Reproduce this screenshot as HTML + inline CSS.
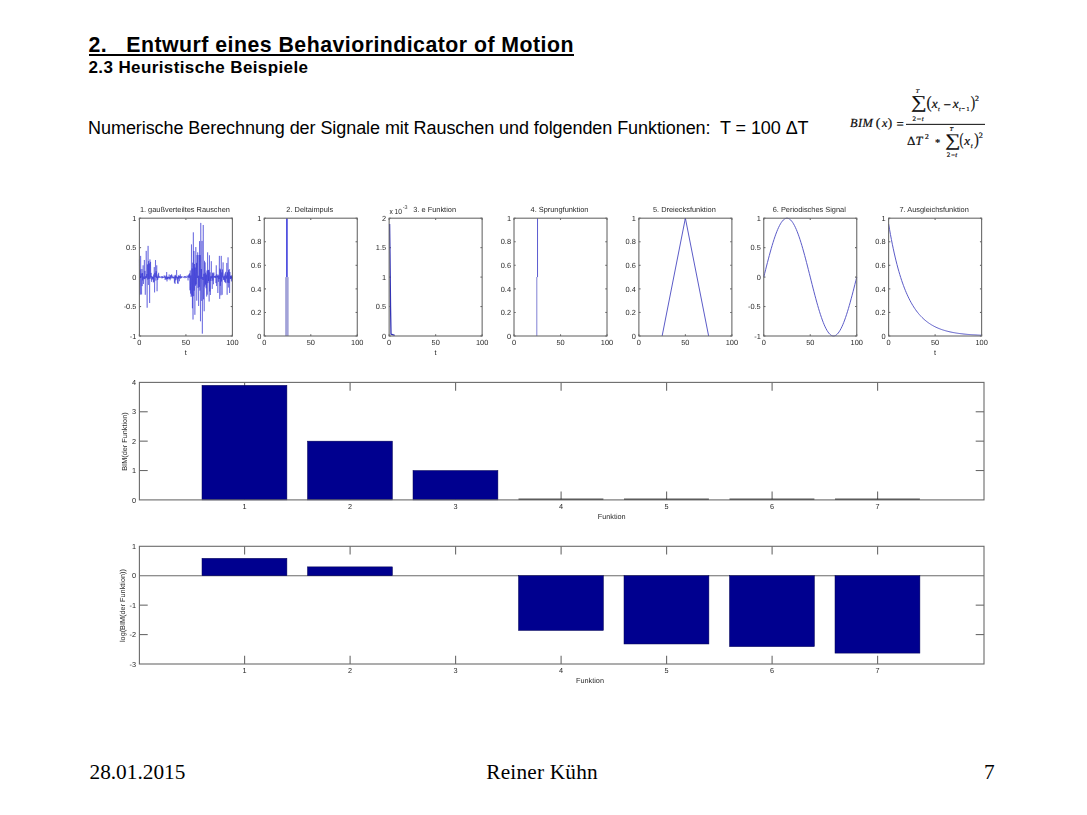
<!DOCTYPE html>
<html><head><meta charset="utf-8"><title>Slide 7</title>
<style>
html,body{margin:0;padding:0;background:#fff;}
body{width:1087px;height:815px;position:relative;overflow:hidden;font-family:"Liberation Sans",sans-serif;color:#000;}
.t{position:absolute;white-space:pre;line-height:1;}
#title{left:88.5px;top:35.1px;font-size:21.3px;font-weight:bold;letter-spacing:0.47px;}
#title u{text-decoration:none;}
#ul{position:absolute;left:88.5px;top:54.2px;width:485.9px;height:1.7px;background:#000;}
#sub{left:88.5px;top:58.6px;font-size:17px;font-weight:bold;letter-spacing:0.39px;}
#body{left:88.1px;top:118.8px;font-size:18px;letter-spacing:-0.07px;}
.f{font-family:"Liberation Serif",serif;font-size:21.3px;top:762px;}
</style></head><body>
<div class="t" id="title"><u>2.   Entwurf eines Behaviorindicator of Motion</u></div>
<div id="ul"></div>
<div class="t" id="sub">2.3 Heuristische Beispiele</div>
<div class="t" id="body">Numerische Berechnung der Signale mit Rauschen und folgenden Funktionen:  T = 100 &#916;T</div>
<div class="t f" style="left:89.5px">28.01.2015</div>
<div class="t f" style="left:486.3px;letter-spacing:0.2px">Reiner K&#252;hn</div>
<div class="t f" style="left:984px">7</div>
<svg width="1087" height="815" viewBox="0 0 1087 815" style="position:absolute;left:0;top:0" font-family="Liberation Sans, sans-serif">
<defs><filter id="soft" x="0" y="0" width="100%" height="100%" filterUnits="userSpaceOnUse" color-interpolation-filters="sRGB"><feGaussianBlur stdDeviation="0.42"/></filter></defs>
<g filter="url(#soft)">
<g stroke="#6a6a6a" stroke-width="1.1" fill="none"><line x1="139.40" y1="336.00" x2="139.40" y2="334.30"/><line x1="139.40" y1="218.20" x2="139.40" y2="219.90"/><line x1="185.90" y1="336.00" x2="185.90" y2="334.30"/><line x1="185.90" y1="218.20" x2="185.90" y2="219.90"/><line x1="232.40" y1="336.00" x2="232.40" y2="334.30"/><line x1="232.40" y1="218.20" x2="232.40" y2="219.90"/><line x1="139.40" y1="336.00" x2="141.10" y2="336.00"/><line x1="232.40" y1="336.00" x2="230.70" y2="336.00"/><line x1="139.40" y1="306.55" x2="141.10" y2="306.55"/><line x1="232.40" y1="306.55" x2="230.70" y2="306.55"/><line x1="139.40" y1="277.10" x2="141.10" y2="277.10"/><line x1="232.40" y1="277.10" x2="230.70" y2="277.10"/><line x1="139.40" y1="247.65" x2="141.10" y2="247.65"/><line x1="232.40" y1="247.65" x2="230.70" y2="247.65"/><line x1="139.40" y1="218.20" x2="141.10" y2="218.20"/><line x1="232.40" y1="218.20" x2="230.70" y2="218.20"/></g>
<g fill="#2a2a2a" font-size="7.4" text-rendering="geometricPrecision"><text x="139.40" y="344.80" text-anchor="middle">0</text><text x="185.90" y="344.80" text-anchor="middle">50</text><text x="232.40" y="344.80" text-anchor="middle">100</text><text x="136.40" y="338.70" text-anchor="end">-1</text><text x="136.40" y="309.25" text-anchor="end">-0.5</text><text x="136.40" y="279.80" text-anchor="end">0</text><text x="136.40" y="250.35" text-anchor="end">0.5</text><text x="136.40" y="220.90" text-anchor="end">1</text><text x="184.90" y="212.20" text-anchor="middle">1. gau&#223;verteiltes Rauschen</text><text x="185.90" y="354.60" text-anchor="middle">t</text></g>
<polyline points="139.40,259.43 139.71,294.77 140.02,269.40 140.33,294.48 140.64,255.90 140.95,277.56 141.26,273.46 141.57,294.48 141.88,269.02 142.19,286.11 142.50,273.09 142.81,280.41 143.12,265.32 143.43,283.99 143.74,276.51 144.05,279.03 144.36,259.98 144.67,279.14 144.98,270.88 145.29,294.77 145.60,276.24 145.91,278.45 146.22,250.89 146.53,277.77 146.84,274.13 147.15,307.73 147.46,264.43 147.77,279.56 148.08,245.88 148.39,284.94 148.70,261.08 149.01,278.93 149.32,263.43 149.63,303.02 149.94,259.43 150.25,278.70 150.56,261.88 150.87,277.37 151.18,272.89 151.49,281.78 151.80,275.97 152.11,279.82 152.42,276.84 152.73,278.83 153.04,276.72 153.35,282.39 153.66,274.57 153.97,281.84 154.28,267.12 154.59,292.41 154.90,272.87 155.21,277.11 155.52,260.02 155.83,280.61 156.14,271.22 156.45,277.81 156.76,265.32 157.07,291.24 157.38,276.49 157.69,279.96 158.00,274.45 158.31,278.23 158.62,272.80 158.93,277.54 159.24,276.11 159.55,277.67 159.86,276.83 160.17,277.32 160.48,276.94 160.79,277.69 161.10,276.22 161.41,277.47 161.72,276.61 162.03,278.41 162.34,276.33 162.65,277.94 162.96,276.52 163.27,277.62 163.58,276.97 163.89,277.77 164.20,275.36 164.51,277.49 164.82,276.23 165.13,280.02 165.44,276.73 165.75,278.85 166.06,275.52 166.37,279.51 166.68,272.04 166.99,281.42 167.30,276.68 167.61,279.05 167.92,276.80 168.23,279.39 168.54,276.84 168.85,278.07 169.16,274.47 169.47,278.94 169.78,276.96 170.09,280.29 170.40,275.43 170.71,278.72 171.02,275.00 171.33,277.60 171.64,274.29 171.95,278.38 172.26,276.80 172.57,277.68 172.88,275.64 173.19,278.34 173.50,277.10 173.81,278.27 174.12,276.85 174.43,282.75 174.74,275.58 175.05,283.94 175.36,274.89 175.67,280.34 175.98,276.06 176.29,277.92 176.60,270.06 176.91,279.48 177.22,276.80 177.53,283.34 177.84,276.89 178.15,283.87 178.46,275.49 178.77,278.65 179.08,275.60 179.39,281.24 179.70,275.92 180.01,277.87 180.32,274.31 180.63,278.65 180.94,276.33 181.25,278.06 181.56,276.52 181.87,277.58 182.18,276.54 182.49,277.19 182.80,276.86 183.11,277.18 183.42,276.80 183.73,277.71 184.04,276.76 184.35,277.26 184.66,276.14 184.97,278.23 185.28,276.07 185.59,277.23 185.90,276.76 186.21,277.97 186.52,276.98 186.83,277.25 187.14,275.56 187.45,277.27 187.76,276.55 188.07,280.43 188.38,275.33 188.69,277.61 189.00,274.19 189.31,277.82 189.62,273.31 189.93,290.32 190.24,270.47 190.55,293.59 190.86,275.44 191.17,296.90 191.48,244.41 191.79,295.62 192.10,268.47 192.41,308.27 192.72,262.69 193.03,319.51 193.34,232.34 193.65,296.18 193.96,251.01 194.27,290.65 194.58,263.99 194.89,314.80 195.20,267.56 195.51,285.72 195.82,247.06 196.13,284.38 196.44,262.87 196.75,300.66 197.06,255.09 197.37,277.99 197.68,252.36 197.99,287.92 198.30,275.73 198.61,305.96 198.92,254.97 199.23,286.93 199.54,241.17 199.85,290.61 200.16,255.14 200.47,321.27 200.78,222.91 201.09,278.80 201.40,269.02 201.71,300.86 202.02,240.92 202.33,333.64 202.64,276.98 202.95,279.92 203.26,224.97 203.57,299.32 203.88,273.81 204.19,311.26 204.50,260.81 204.81,286.57 205.12,262.38 205.43,284.65 205.74,272.68 206.05,288.28 206.36,274.57 206.67,296.54 206.98,270.56 207.29,294.66 207.60,252.36 207.91,283.08 208.22,269.85 208.53,281.16 208.84,270.05 209.15,301.54 209.46,255.31 209.77,291.46 210.08,272.35 210.39,294.98 210.70,276.36 211.01,280.94 211.32,261.20 211.63,278.39 211.94,275.73 212.25,288.88 212.56,272.69 212.87,280.68 213.18,273.43 213.49,284.21 213.80,272.47 214.11,277.57 214.42,276.12 214.73,277.50 215.04,276.20 215.35,277.97 215.66,275.58 215.97,283.12 216.28,265.32 216.59,286.04 216.90,274.35 217.21,277.49 217.52,275.82 217.83,293.00 218.14,274.70 218.45,281.84 218.76,275.60 219.07,279.02 219.38,255.90 219.69,298.89 220.00,268.63 220.31,285.87 220.62,269.55 220.93,295.33 221.24,255.90 221.55,281.50 221.86,272.38 222.17,294.77 222.48,269.48 222.79,277.51 223.10,262.38 223.41,279.74 223.72,276.47 224.03,280.11 224.34,275.58 224.65,281.73 224.96,273.53 225.27,282.39 225.58,271.86 225.89,283.16 226.20,275.43 226.51,278.58 226.82,262.96 227.13,294.77 227.44,272.22 227.75,282.62 228.06,257.37 228.37,287.52 228.68,270.15 228.99,282.99 229.30,269.10 229.61,293.00 229.92,272.01 230.23,278.93 230.54,275.71 230.85,279.07 231.16,276.21 231.47,281.38 231.78,275.13 232.09,279.62 232.40,276.52" fill="none" stroke="#1c1cd0" stroke-width="0.42" stroke-opacity="1" stroke-linejoin="round"/>
<rect x="139.40" y="218.20" width="93.00" height="117.80" fill="none" stroke="#6a6a6a" stroke-width="1.1"/>
<g stroke="#6a6a6a" stroke-width="1.1" fill="none"><line x1="264.27" y1="336.00" x2="264.27" y2="334.30"/><line x1="264.27" y1="218.20" x2="264.27" y2="219.90"/><line x1="310.77" y1="336.00" x2="310.77" y2="334.30"/><line x1="310.77" y1="218.20" x2="310.77" y2="219.90"/><line x1="357.27" y1="336.00" x2="357.27" y2="334.30"/><line x1="357.27" y1="218.20" x2="357.27" y2="219.90"/><line x1="264.27" y1="336.00" x2="265.97" y2="336.00"/><line x1="357.27" y1="336.00" x2="355.57" y2="336.00"/><line x1="264.27" y1="312.44" x2="265.97" y2="312.44"/><line x1="357.27" y1="312.44" x2="355.57" y2="312.44"/><line x1="264.27" y1="288.88" x2="265.97" y2="288.88"/><line x1="357.27" y1="288.88" x2="355.57" y2="288.88"/><line x1="264.27" y1="265.32" x2="265.97" y2="265.32"/><line x1="357.27" y1="265.32" x2="355.57" y2="265.32"/><line x1="264.27" y1="241.76" x2="265.97" y2="241.76"/><line x1="357.27" y1="241.76" x2="355.57" y2="241.76"/><line x1="264.27" y1="218.20" x2="265.97" y2="218.20"/><line x1="357.27" y1="218.20" x2="355.57" y2="218.20"/></g>
<g fill="#2a2a2a" font-size="7.4" text-rendering="geometricPrecision"><text x="264.27" y="344.80" text-anchor="middle">0</text><text x="310.77" y="344.80" text-anchor="middle">50</text><text x="357.27" y="344.80" text-anchor="middle">100</text><text x="261.27" y="338.70" text-anchor="end">0</text><text x="261.27" y="315.14" text-anchor="end">0.2</text><text x="261.27" y="291.58" text-anchor="end">0.4</text><text x="261.27" y="268.02" text-anchor="end">0.6</text><text x="261.27" y="244.46" text-anchor="end">0.8</text><text x="261.27" y="220.90" text-anchor="end">1</text><text x="309.77" y="212.20" text-anchor="middle">2. Deltaimpuls</text></g>
<rect x="285.15" y="277.10" width="3.5" height="58.90" fill="#a2a2d8"/>
<rect x="286.05" y="218.20" width="1.7" height="58.90" fill="#4a4ade"/>
<rect x="264.27" y="218.20" width="93.00" height="117.80" fill="none" stroke="#6a6a6a" stroke-width="1.1"/>
<g stroke="#6a6a6a" stroke-width="1.1" fill="none"><line x1="389.14" y1="336.00" x2="389.14" y2="334.30"/><line x1="389.14" y1="218.20" x2="389.14" y2="219.90"/><line x1="435.64" y1="336.00" x2="435.64" y2="334.30"/><line x1="435.64" y1="218.20" x2="435.64" y2="219.90"/><line x1="482.14" y1="336.00" x2="482.14" y2="334.30"/><line x1="482.14" y1="218.20" x2="482.14" y2="219.90"/><line x1="389.14" y1="336.00" x2="390.84" y2="336.00"/><line x1="482.14" y1="336.00" x2="480.44" y2="336.00"/><line x1="389.14" y1="306.55" x2="390.84" y2="306.55"/><line x1="482.14" y1="306.55" x2="480.44" y2="306.55"/><line x1="389.14" y1="277.10" x2="390.84" y2="277.10"/><line x1="482.14" y1="277.10" x2="480.44" y2="277.10"/><line x1="389.14" y1="247.65" x2="390.84" y2="247.65"/><line x1="482.14" y1="247.65" x2="480.44" y2="247.65"/><line x1="389.14" y1="218.20" x2="390.84" y2="218.20"/><line x1="482.14" y1="218.20" x2="480.44" y2="218.20"/></g>
<g fill="#2a2a2a" font-size="7.4" text-rendering="geometricPrecision"><text x="389.14" y="344.80" text-anchor="middle">0</text><text x="435.64" y="344.80" text-anchor="middle">50</text><text x="482.14" y="344.80" text-anchor="middle">100</text><text x="386.14" y="338.70" text-anchor="end">0</text><text x="386.14" y="309.25" text-anchor="end">0.5</text><text x="386.14" y="279.80" text-anchor="end">1</text><text x="386.14" y="250.35" text-anchor="end">1.5</text><text x="386.14" y="220.90" text-anchor="end">2</text><text x="434.64" y="212.20" text-anchor="middle">3. e Funktion</text><text x="435.64" y="354.60" text-anchor="middle">t</text><text x="389.44" y="213.90" textLength="12.6" lengthAdjust="spacingAndGlyphs">x 10</text><text x="402.74" y="209.20" font-size="5.4">-3</text></g>
<polyline points="389.60,224.09 389.98,253.54 390.53,306.55 391.00,334.23 394.72,335.41" fill="none" stroke="#3434b4" stroke-width="1.3" stroke-opacity="1" stroke-linejoin="round"/>
<rect x="389.14" y="218.20" width="93.00" height="117.80" fill="none" stroke="#6a6a6a" stroke-width="1.1"/>
<g stroke="#6a6a6a" stroke-width="1.1" fill="none"><line x1="514.01" y1="336.00" x2="514.01" y2="334.30"/><line x1="514.01" y1="218.20" x2="514.01" y2="219.90"/><line x1="560.51" y1="336.00" x2="560.51" y2="334.30"/><line x1="560.51" y1="218.20" x2="560.51" y2="219.90"/><line x1="607.01" y1="336.00" x2="607.01" y2="334.30"/><line x1="607.01" y1="218.20" x2="607.01" y2="219.90"/><line x1="514.01" y1="336.00" x2="515.71" y2="336.00"/><line x1="607.01" y1="336.00" x2="605.31" y2="336.00"/><line x1="514.01" y1="312.44" x2="515.71" y2="312.44"/><line x1="607.01" y1="312.44" x2="605.31" y2="312.44"/><line x1="514.01" y1="288.88" x2="515.71" y2="288.88"/><line x1="607.01" y1="288.88" x2="605.31" y2="288.88"/><line x1="514.01" y1="265.32" x2="515.71" y2="265.32"/><line x1="607.01" y1="265.32" x2="605.31" y2="265.32"/><line x1="514.01" y1="241.76" x2="515.71" y2="241.76"/><line x1="607.01" y1="241.76" x2="605.31" y2="241.76"/><line x1="514.01" y1="218.20" x2="515.71" y2="218.20"/><line x1="607.01" y1="218.20" x2="605.31" y2="218.20"/></g>
<g fill="#2a2a2a" font-size="7.4" text-rendering="geometricPrecision"><text x="514.01" y="344.80" text-anchor="middle">0</text><text x="560.51" y="344.80" text-anchor="middle">50</text><text x="607.01" y="344.80" text-anchor="middle">100</text><text x="511.01" y="338.70" text-anchor="end">0</text><text x="511.01" y="315.14" text-anchor="end">0.2</text><text x="511.01" y="291.58" text-anchor="end">0.4</text><text x="511.01" y="268.02" text-anchor="end">0.6</text><text x="511.01" y="244.46" text-anchor="end">0.8</text><text x="511.01" y="220.90" text-anchor="end">1</text><text x="559.51" y="212.20" text-anchor="middle">4. Sprungfunktion</text></g>
<polyline points="536.79,336.00 536.79,277.10" fill="none" stroke="#8c8cd8" stroke-width="1.1" stroke-opacity="1" stroke-linejoin="round"/>
<polyline points="537.54,277.10 537.54,218.20" fill="none" stroke="#5a5ad0" stroke-width="1.0" stroke-opacity="1" stroke-linejoin="round"/>
<rect x="514.01" y="218.20" width="93.00" height="117.80" fill="none" stroke="#6a6a6a" stroke-width="1.1"/>
<g stroke="#6a6a6a" stroke-width="1.1" fill="none"><line x1="638.88" y1="336.00" x2="638.88" y2="334.30"/><line x1="638.88" y1="218.20" x2="638.88" y2="219.90"/><line x1="685.38" y1="336.00" x2="685.38" y2="334.30"/><line x1="685.38" y1="218.20" x2="685.38" y2="219.90"/><line x1="731.88" y1="336.00" x2="731.88" y2="334.30"/><line x1="731.88" y1="218.20" x2="731.88" y2="219.90"/><line x1="638.88" y1="336.00" x2="640.58" y2="336.00"/><line x1="731.88" y1="336.00" x2="730.18" y2="336.00"/><line x1="638.88" y1="312.44" x2="640.58" y2="312.44"/><line x1="731.88" y1="312.44" x2="730.18" y2="312.44"/><line x1="638.88" y1="288.88" x2="640.58" y2="288.88"/><line x1="731.88" y1="288.88" x2="730.18" y2="288.88"/><line x1="638.88" y1="265.32" x2="640.58" y2="265.32"/><line x1="731.88" y1="265.32" x2="730.18" y2="265.32"/><line x1="638.88" y1="241.76" x2="640.58" y2="241.76"/><line x1="731.88" y1="241.76" x2="730.18" y2="241.76"/><line x1="638.88" y1="218.20" x2="640.58" y2="218.20"/><line x1="731.88" y1="218.20" x2="730.18" y2="218.20"/></g>
<g fill="#2a2a2a" font-size="7.4" text-rendering="geometricPrecision"><text x="638.88" y="344.80" text-anchor="middle">0</text><text x="685.38" y="344.80" text-anchor="middle">50</text><text x="731.88" y="344.80" text-anchor="middle">100</text><text x="635.88" y="338.70" text-anchor="end">0</text><text x="635.88" y="315.14" text-anchor="end">0.2</text><text x="635.88" y="291.58" text-anchor="end">0.4</text><text x="635.88" y="268.02" text-anchor="end">0.6</text><text x="635.88" y="244.46" text-anchor="end">0.8</text><text x="635.88" y="220.90" text-anchor="end">1</text><text x="684.38" y="212.20" text-anchor="middle">5. Dreiecksfunktion</text></g>
<polyline points="662.13,336.00 685.38,218.20 708.63,336.00" fill="none" stroke="#5252c4" stroke-width="0.95" stroke-opacity="1" stroke-linejoin="round"/>
<rect x="638.88" y="218.20" width="93.00" height="117.80" fill="none" stroke="#6a6a6a" stroke-width="1.1"/>
<g stroke="#6a6a6a" stroke-width="1.1" fill="none"><line x1="763.75" y1="336.00" x2="763.75" y2="334.30"/><line x1="763.75" y1="218.20" x2="763.75" y2="219.90"/><line x1="810.25" y1="336.00" x2="810.25" y2="334.30"/><line x1="810.25" y1="218.20" x2="810.25" y2="219.90"/><line x1="856.75" y1="336.00" x2="856.75" y2="334.30"/><line x1="856.75" y1="218.20" x2="856.75" y2="219.90"/><line x1="763.75" y1="336.00" x2="765.45" y2="336.00"/><line x1="856.75" y1="336.00" x2="855.05" y2="336.00"/><line x1="763.75" y1="306.55" x2="765.45" y2="306.55"/><line x1="856.75" y1="306.55" x2="855.05" y2="306.55"/><line x1="763.75" y1="277.10" x2="765.45" y2="277.10"/><line x1="856.75" y1="277.10" x2="855.05" y2="277.10"/><line x1="763.75" y1="247.65" x2="765.45" y2="247.65"/><line x1="856.75" y1="247.65" x2="855.05" y2="247.65"/><line x1="763.75" y1="218.20" x2="765.45" y2="218.20"/><line x1="856.75" y1="218.20" x2="855.05" y2="218.20"/></g>
<g fill="#2a2a2a" font-size="7.4" text-rendering="geometricPrecision"><text x="763.75" y="344.80" text-anchor="middle">0</text><text x="810.25" y="344.80" text-anchor="middle">50</text><text x="856.75" y="344.80" text-anchor="middle">100</text><text x="760.75" y="338.70" text-anchor="end">-1</text><text x="760.75" y="309.25" text-anchor="end">-0.5</text><text x="760.75" y="279.80" text-anchor="end">0</text><text x="760.75" y="250.35" text-anchor="end">0.5</text><text x="760.75" y="220.90" text-anchor="end">1</text><text x="809.25" y="212.20" text-anchor="middle">6. Periodisches Signal</text></g>
<polyline points="763.75,277.10 764.68,273.40 765.61,269.72 766.54,266.06 767.47,262.45 768.40,258.90 769.33,255.42 770.26,252.02 771.19,248.72 772.12,245.54 773.05,242.48 773.98,239.56 774.91,236.78 775.84,234.16 776.77,231.72 777.70,229.45 778.63,227.37 779.56,225.49 780.49,223.81 781.42,222.34 782.35,221.08 783.28,220.05 784.21,219.24 785.14,218.66 786.07,218.32 787.00,218.20 787.93,218.32 788.86,218.66 789.79,219.24 790.72,220.05 791.65,221.08 792.58,222.34 793.51,223.81 794.44,225.49 795.37,227.37 796.30,229.45 797.23,231.72 798.16,234.16 799.09,236.78 800.02,239.56 800.95,242.48 801.88,245.54 802.81,248.72 803.74,252.02 804.67,255.42 805.60,258.90 806.53,262.45 807.46,266.06 808.39,269.72 809.32,273.40 810.25,277.10 811.18,280.80 812.11,284.48 813.04,288.14 813.97,291.75 814.90,295.30 815.83,298.78 816.76,302.18 817.69,305.48 818.62,308.66 819.55,311.72 820.48,314.64 821.41,317.42 822.34,320.04 823.27,322.48 824.20,324.75 825.13,326.83 826.06,328.71 826.99,330.39 827.92,331.86 828.85,333.12 829.78,334.15 830.71,334.96 831.64,335.54 832.57,335.88 833.50,336.00 834.43,335.88 835.36,335.54 836.29,334.96 837.22,334.15 838.15,333.12 839.08,331.86 840.01,330.39 840.94,328.71 841.87,326.83 842.80,324.75 843.73,322.48 844.66,320.04 845.59,317.42 846.52,314.64 847.45,311.72 848.38,308.66 849.31,305.48 850.24,302.18 851.17,298.78 852.10,295.30 853.03,291.75 853.96,288.14 854.89,284.48 855.82,280.80 856.75,277.10" fill="none" stroke="#5252c4" stroke-width="0.95" stroke-opacity="1" stroke-linejoin="round"/>
<rect x="763.75" y="218.20" width="93.00" height="117.80" fill="none" stroke="#6a6a6a" stroke-width="1.1"/>
<g stroke="#6a6a6a" stroke-width="1.1" fill="none"><line x1="888.62" y1="336.00" x2="888.62" y2="334.30"/><line x1="888.62" y1="218.20" x2="888.62" y2="219.90"/><line x1="935.12" y1="336.00" x2="935.12" y2="334.30"/><line x1="935.12" y1="218.20" x2="935.12" y2="219.90"/><line x1="981.62" y1="336.00" x2="981.62" y2="334.30"/><line x1="981.62" y1="218.20" x2="981.62" y2="219.90"/><line x1="888.62" y1="336.00" x2="890.32" y2="336.00"/><line x1="981.62" y1="336.00" x2="979.92" y2="336.00"/><line x1="888.62" y1="312.44" x2="890.32" y2="312.44"/><line x1="981.62" y1="312.44" x2="979.92" y2="312.44"/><line x1="888.62" y1="288.88" x2="890.32" y2="288.88"/><line x1="981.62" y1="288.88" x2="979.92" y2="288.88"/><line x1="888.62" y1="265.32" x2="890.32" y2="265.32"/><line x1="981.62" y1="265.32" x2="979.92" y2="265.32"/><line x1="888.62" y1="241.76" x2="890.32" y2="241.76"/><line x1="981.62" y1="241.76" x2="979.92" y2="241.76"/><line x1="888.62" y1="218.20" x2="890.32" y2="218.20"/><line x1="981.62" y1="218.20" x2="979.92" y2="218.20"/></g>
<g fill="#2a2a2a" font-size="7.4" text-rendering="geometricPrecision"><text x="888.62" y="344.80" text-anchor="middle">0</text><text x="935.12" y="344.80" text-anchor="middle">50</text><text x="981.62" y="344.80" text-anchor="middle">100</text><text x="885.62" y="338.70" text-anchor="end">0</text><text x="885.62" y="315.14" text-anchor="end">0.2</text><text x="885.62" y="291.58" text-anchor="end">0.4</text><text x="885.62" y="268.02" text-anchor="end">0.6</text><text x="885.62" y="244.46" text-anchor="end">0.8</text><text x="885.62" y="220.90" text-anchor="end">1</text><text x="934.12" y="212.20" text-anchor="middle">7. Ausgleichsfunktion</text><text x="935.12" y="354.60" text-anchor="middle">t</text></g>
<polyline points="888.62,223.95 889.55,229.41 890.48,234.61 891.41,239.55 892.34,244.26 893.27,248.73 894.20,252.99 895.13,257.04 896.06,260.89 896.99,264.55 897.92,268.04 898.85,271.35 899.78,274.50 900.71,277.50 901.64,280.36 902.57,283.07 903.50,285.65 904.43,288.11 905.36,290.44 906.29,292.66 907.22,294.78 908.15,296.79 909.08,298.70 910.01,300.52 910.94,302.25 911.87,303.90 912.80,305.46 913.73,306.95 914.66,308.37 915.59,309.72 916.52,311.00 917.45,312.22 918.38,313.38 919.31,314.48 920.24,315.53 921.17,316.53 922.10,317.48 923.03,318.38 923.96,319.24 924.89,320.06 925.82,320.84 926.75,321.57 927.68,322.28 928.61,322.95 929.54,323.58 930.47,324.19 931.40,324.77 932.33,325.31 933.26,325.83 934.19,326.33 935.12,326.80 936.05,327.25 936.98,327.68 937.91,328.08 938.84,328.47 939.77,328.84 940.70,329.19 941.63,329.52 942.56,329.83 943.49,330.14 944.42,330.42 945.35,330.69 946.28,330.95 947.21,331.20 948.14,331.43 949.07,331.66 950.00,331.87 950.93,332.07 951.86,332.26 952.79,332.44 953.72,332.62 954.65,332.78 955.58,332.94 956.51,333.09 957.44,333.23 958.37,333.36 959.30,333.49 960.23,333.62 961.16,333.73 962.09,333.84 963.02,333.95 963.95,334.05 964.88,334.14 965.81,334.23 966.74,334.32 967.67,334.40 968.60,334.48 969.53,334.55 970.46,334.62 971.39,334.69 972.32,334.76 973.25,334.82 974.18,334.87 975.11,334.93 976.04,334.98 976.97,335.03 977.90,335.08 978.83,335.12 979.76,335.17 980.69,335.21 981.62,335.24" fill="none" stroke="#5252c4" stroke-width="0.95" stroke-opacity="1" stroke-linejoin="round"/>
<rect x="888.62" y="218.20" width="93.00" height="117.80" fill="none" stroke="#6a6a6a" stroke-width="1.1"/>
<g stroke="#6a6a6a" stroke-width="1.1" fill="none"><line x1="244.60" y1="499.90" x2="244.60" y2="491.60"/><line x1="244.60" y1="382.40" x2="244.60" y2="390.70"/><line x1="350.10" y1="499.90" x2="350.10" y2="491.60"/><line x1="350.10" y1="382.40" x2="350.10" y2="390.70"/><line x1="455.60" y1="499.90" x2="455.60" y2="491.60"/><line x1="455.60" y1="382.40" x2="455.60" y2="390.70"/><line x1="561.10" y1="499.90" x2="561.10" y2="491.60"/><line x1="561.10" y1="382.40" x2="561.10" y2="390.70"/><line x1="666.60" y1="499.90" x2="666.60" y2="491.60"/><line x1="666.60" y1="382.40" x2="666.60" y2="390.70"/><line x1="772.10" y1="499.90" x2="772.10" y2="491.60"/><line x1="772.10" y1="382.40" x2="772.10" y2="390.70"/><line x1="877.60" y1="499.90" x2="877.60" y2="491.60"/><line x1="877.60" y1="382.40" x2="877.60" y2="390.70"/><line x1="139.40" y1="470.52" x2="147.70" y2="470.52"/><line x1="984.00" y1="470.52" x2="975.70" y2="470.52"/><line x1="139.40" y1="441.15" x2="147.70" y2="441.15"/><line x1="984.00" y1="441.15" x2="975.70" y2="441.15"/><line x1="139.40" y1="411.77" x2="147.70" y2="411.77"/><line x1="984.00" y1="411.77" x2="975.70" y2="411.77"/></g>
<rect x="202.00" y="385.34" width="84.90" height="114.56" fill="#00008f" stroke="#000050" stroke-width="0.5"/>
<rect x="307.50" y="441.15" width="84.90" height="58.75" fill="#00008f" stroke="#000050" stroke-width="0.5"/>
<rect x="413.00" y="470.52" width="84.90" height="29.38" fill="#00008f" stroke="#000050" stroke-width="0.5"/>
<rect x="518.50" y="498.65" width="84.90" height="1.15" fill="#141414"/>
<rect x="624.00" y="498.65" width="84.90" height="1.15" fill="#141414"/>
<rect x="729.50" y="498.65" width="84.90" height="1.15" fill="#141414"/>
<rect x="835.00" y="498.65" width="84.90" height="1.15" fill="#141414"/>
<rect x="139.40" y="382.40" width="844.60" height="117.50" fill="none" stroke="#6a6a6a" stroke-width="1.1"/>
<g fill="#2a2a2a" font-size="7.3" text-rendering="geometricPrecision"><text x="244.60" y="508.80" text-anchor="middle">1</text><text x="350.10" y="508.80" text-anchor="middle">2</text><text x="455.60" y="508.80" text-anchor="middle">3</text><text x="561.10" y="508.80" text-anchor="middle">4</text><text x="666.60" y="508.80" text-anchor="middle">5</text><text x="772.10" y="508.80" text-anchor="middle">6</text><text x="877.60" y="508.80" text-anchor="middle">7</text><text x="136.00" y="502.60" text-anchor="end">0</text><text x="136.00" y="473.22" text-anchor="end">1</text><text x="136.00" y="443.85" text-anchor="end">2</text><text x="136.00" y="414.47" text-anchor="end">3</text><text x="136.00" y="385.10" text-anchor="end">4</text><text x="611.70" y="518.50" text-anchor="middle">Funktion</text><text transform="translate(127.00,441.55) rotate(-90)" text-anchor="middle">BIM(der Funktion)</text></g>
<g stroke="#6a6a6a" stroke-width="1.1" fill="none"><line x1="244.60" y1="664.00" x2="244.60" y2="655.70"/><line x1="244.60" y1="546.30" x2="244.60" y2="554.60"/><line x1="350.10" y1="664.00" x2="350.10" y2="655.70"/><line x1="350.10" y1="546.30" x2="350.10" y2="554.60"/><line x1="455.60" y1="664.00" x2="455.60" y2="655.70"/><line x1="455.60" y1="546.30" x2="455.60" y2="554.60"/><line x1="561.10" y1="664.00" x2="561.10" y2="655.70"/><line x1="561.10" y1="546.30" x2="561.10" y2="554.60"/><line x1="666.60" y1="664.00" x2="666.60" y2="655.70"/><line x1="666.60" y1="546.30" x2="666.60" y2="554.60"/><line x1="772.10" y1="664.00" x2="772.10" y2="655.70"/><line x1="772.10" y1="546.30" x2="772.10" y2="554.60"/><line x1="877.60" y1="664.00" x2="877.60" y2="655.70"/><line x1="877.60" y1="546.30" x2="877.60" y2="554.60"/><line x1="139.40" y1="634.58" x2="147.70" y2="634.58"/><line x1="984.00" y1="634.58" x2="975.70" y2="634.58"/><line x1="139.40" y1="605.15" x2="147.70" y2="605.15"/><line x1="984.00" y1="605.15" x2="975.70" y2="605.15"/><line x1="139.40" y1="575.72" x2="984.00" y2="575.72"/></g>
<rect x="202.00" y="558.33" width="84.90" height="17.39" fill="#00008f" stroke="#000050" stroke-width="0.5"/>
<rect x="307.50" y="566.87" width="84.90" height="8.86" fill="#00008f" stroke="#000050" stroke-width="0.5"/>
<rect x="518.50" y="575.72" width="84.90" height="54.73" fill="#00008f" stroke="#000050" stroke-width="0.5"/>
<rect x="624.00" y="575.72" width="84.90" height="68.27" fill="#00008f" stroke="#000050" stroke-width="0.5"/>
<rect x="729.50" y="575.72" width="84.90" height="70.91" fill="#00008f" stroke="#000050" stroke-width="0.5"/>
<rect x="835.00" y="575.72" width="84.90" height="77.39" fill="#00008f" stroke="#000050" stroke-width="0.5"/>
<rect x="139.40" y="546.30" width="844.60" height="117.70" fill="none" stroke="#6a6a6a" stroke-width="1.1"/>
<g fill="#2a2a2a" font-size="7.3" text-rendering="geometricPrecision"><text x="244.60" y="672.90" text-anchor="middle">1</text><text x="350.10" y="672.90" text-anchor="middle">2</text><text x="455.60" y="672.90" text-anchor="middle">3</text><text x="561.10" y="672.90" text-anchor="middle">4</text><text x="666.60" y="672.90" text-anchor="middle">5</text><text x="772.10" y="672.90" text-anchor="middle">6</text><text x="877.60" y="672.90" text-anchor="middle">7</text><text x="136.00" y="666.70" text-anchor="end">-3</text><text x="136.00" y="637.28" text-anchor="end">-2</text><text x="136.00" y="607.85" text-anchor="end">-1</text><text x="136.00" y="578.42" text-anchor="end">0</text><text x="136.00" y="549.00" text-anchor="end">1</text><text x="590.00" y="682.60" text-anchor="middle">Funktion</text><text transform="translate(125.00,605.55) rotate(-90)" text-anchor="middle">log(BIM(der Funktion))</text></g>
</g>
<g font-family="Liberation Serif, serif" fill="#0a0a0a" stroke="#0a0a0a" text-rendering="geometricPrecision">
<text transform="translate(850.04,126.51) scale(1.2315,1.2315)" font-size="10.0" font-style="italic" stroke-width="0.179">B</text>
<text transform="translate(858.10,126.55) scale(1.2370,1.2370)" font-size="10.0" font-style="italic" stroke-width="0.178">I</text>
<text transform="translate(862.39,126.55) scale(1.2370,1.2370)" font-size="10.0" font-style="italic" stroke-width="0.178">M</text>
<text transform="translate(875.65,126.90) scale(1.3627,1.2903)" font-size="10.0" stroke-width="0.166">(</text>
<text transform="translate(882.11,126.55) scale(1.2201,1.2201)" font-size="10.0" font-style="italic" stroke-width="0.180">x</text>
<text transform="translate(887.72,126.90) scale(1.3238,1.2903)" font-size="10.0" stroke-width="0.168">)</text>
<text transform="translate(896.51,127.62) scale(1.2894,1.2400)" font-size="10.0" stroke-width="0.174">=</text>
<rect x="906.0" y="123.85" width="79.0" height="1.0" fill="#0a0a0a" stroke="none"/>
<text transform="translate(915.77,93.25) scale(0.6109,0.6109)" font-size="10.0" font-style="italic" stroke-width="0.360">T</text>
<text transform="translate(911.07,108.40) scale(2.1901,1.8094)" font-size="10.0" stroke-width="0.110">&#8721;</text>
<text transform="translate(912.40,120.55) scale(0.6947,0.6947)" font-size="10.0" stroke-width="0.317">2</text>
<text transform="translate(916.76,120.59) scale(0.7736,0.6000)" font-size="10.0" stroke-width="0.320">=</text>
<text transform="translate(921.67,120.59) scale(0.6635,0.6635)" font-size="10.0" font-style="italic" stroke-width="0.332">t</text>
<text transform="translate(926.48,108.09) scale(1.5185,1.7205)" font-size="10.0" stroke-width="0.136">(</text>
<text transform="translate(931.63,107.95) scale(1.3290,1.3290)" font-size="10.0" font-style="italic" stroke-width="0.166">x</text>
<text transform="translate(938.09,110.59) scale(0.5936,0.5936)" font-size="10.0" font-style="italic" stroke-width="0.371">t</text>
<text transform="translate(943.59,109.88) scale(1.3324,1.6063)" font-size="10.0" stroke-width="0.150">&#8722;</text>
<text transform="translate(952.63,107.95) scale(1.3290,1.3290)" font-size="10.0" font-style="italic" stroke-width="0.166">x</text>
<text transform="translate(958.99,110.59) scale(0.5936,0.5936)" font-size="10.0" font-style="italic" stroke-width="0.371">t</text>
<text transform="translate(961.55,112.43) scale(0.6017,1.0039)" font-size="10.0" stroke-width="0.274">&#8722;</text>
<text transform="translate(966.58,110.65) scale(0.5756,0.5756)" font-size="10.0" stroke-width="0.382">1</text>
<text transform="translate(970.72,108.09) scale(1.3238,1.7205)" font-size="10.0" stroke-width="0.145">)</text>
<text transform="translate(975.08,100.75) scale(0.7854,0.7854)" font-size="10.0" stroke-width="0.280">2</text>
<text transform="translate(906.95,144.65) scale(1.3042,1.2421)" font-size="10.0" stroke-width="0.173">&#916;</text>
<text transform="translate(915.59,144.65) scale(1.2523,1.2523)" font-size="10.0" font-style="italic" stroke-width="0.176">T</text>
<text transform="translate(925.10,138.75) scale(0.7552,0.7552)" font-size="10.0" stroke-width="0.291">2</text>
<text transform="translate(934.99,145.81) scale(1.0635,1.0635)" font-size="10.0" stroke-width="0.207">*</text>
<text transform="translate(949.82,131.25) scale(0.5956,0.5956)" font-size="10.0" font-style="italic" stroke-width="0.369">T</text>
<text transform="translate(945.20,145.70) scale(2.1232,1.7633)" font-size="10.0" stroke-width="0.113">&#8721;</text>
<text transform="translate(946.80,157.35) scale(0.6947,0.6947)" font-size="10.0" stroke-width="0.317">2</text>
<text transform="translate(951.13,157.39) scale(0.6447,0.6000)" font-size="10.0" stroke-width="0.353">=</text>
<text transform="translate(955.17,157.39) scale(0.6635,0.6635)" font-size="10.0" font-style="italic" stroke-width="0.332">t</text>
<text transform="translate(959.54,144.96) scale(1.1681,1.7315)" font-size="10.0" stroke-width="0.152">(</text>
<text transform="translate(964.32,144.65) scale(1.2854,1.2854)" font-size="10.0" font-style="italic" stroke-width="0.171">x</text>
<text transform="translate(970.82,148.19) scale(0.6635,0.6635)" font-size="10.0" font-style="italic" stroke-width="0.332">t</text>
<text transform="translate(974.21,144.96) scale(1.3627,1.7315)" font-size="10.0" stroke-width="0.142">)</text>
<text transform="translate(978.76,137.55) scale(0.8156,0.8156)" font-size="10.0" stroke-width="0.270">2</text>
</g>
</svg>
</body></html>
